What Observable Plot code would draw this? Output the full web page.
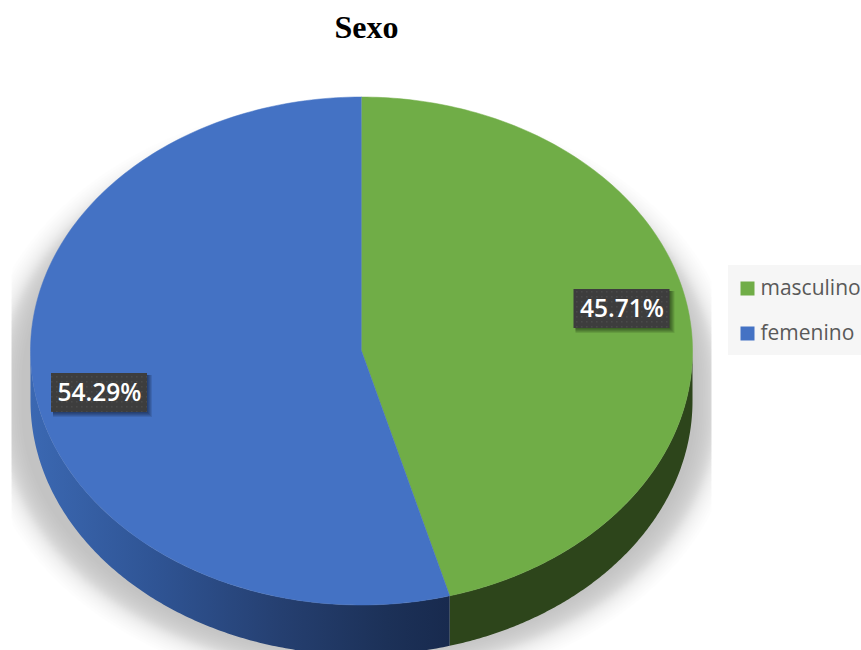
<!DOCTYPE html>
<html>
<head>
<meta charset="utf-8">
<style>
html,body{margin:0;padding:0;background:#fff;overflow:hidden}
svg{display:block}
</style>
<script src="https://cdn.jsdelivr.net/npm/d3@7"></script>
<script src="https://cdn.jsdelivr.net/npm/@observablehq/plot@0.6"></script>
</head>
<body>
<div id="chart"></div>
<script>
const chartTitle = "Sexo";
const categories = ["masculino", "femenino"];
const percents = [45.71, 54.29];
const topColors = ["#70ad47", "#4472c4"];
const sideColors = ["#2d451b", "url(#blueSide)"];
const labelX = [621.5, 99];
const labelY = [308.5, 392.5];
const legendY = [288, 333];

const W = 861, H = 650;
const cx = 361, cy = 350.5, rx = 331, ry = 254, depth = 50;

const rad = d => d * Math.PI / 180;
const ex = a => cx + rx * Math.sin(rad(a));
const ey = a => cy - ry * Math.cos(rad(a));
const arc = (a0, a1, n = 180) => d3.range(0, n + 1).map(i => a0 + (a1 - a0) * i / n);

let start = 0;
const slices = categories.map((name, i) => {
  const a0 = start, a1 = start + percents[i] * 3.6;
  start = a1;
  return {name, i, a0, a1};
});

const topPts = slices.flatMap(s => [
  {name: s.name, x: cx, y: cy},
  ...arc(s.a0, s.a1).map(a => ({name: s.name, x: ex(a), y: ey(a)}))
]);

const sidePts = slices.flatMap(s => {
  const a0 = Math.max(s.a0, 90), a1 = Math.min(s.a1, 270);
  const as = arc(a0, a1);
  return [
    ...as.map(a => ({name: s.name, x: ex(a), y: ey(a)})),
    ...as.slice().reverse().map(a => ({name: s.name, x: ex(a), y: ey(a) + depth}))
  ];
});

// soft shadow: stacked translucent copies of the pie outline, cut off at the image band edges
const shadowSteps = 30;
const shadowPts = d3.range(shadowSteps).flatMap(k => {
  const t = 2 * (k + 0.5) / shadowSteps - 1;
  const off = -22 * (0.5 * t + 0.5 * t * t * t);   // largest first
  return arc(0, 360, 240).map(a => {
    const c = Math.cos(rad(a));
    return {
      k,
      x: Math.min(711, Math.max(11, 358 + (358 + off) * Math.sin(rad(a)))),
      y: (c > 0 ? 382 : 410) - (262 + off) * c
    };
  });
});

const defsMark = () => {
  const d = d3.create("svg:defs");
  const g = d.append("linearGradient").attr("id", "blueSide")
    .attr("gradientUnits", "userSpaceOnUse")
    .attr("x1", 30).attr("x2", 449).attr("y1", 0).attr("y2", 0);
  [[0, "#3b68b2"], [0.3, "#2f5494"], [0.6, "#253f70"], [0.85, "#1c3158"], [1, "#182a4e"]]
    .forEach(([o, c]) => g.append("stop").attr("offset", o).attr("stop-color", c));
  const p = d.append("pattern").attr("id", "labelDots").attr("patternUnits", "userSpaceOnUse")
    .attr("width", 5).attr("height", 5);
  p.append("rect").attr("width", 5).attr("height", 5).attr("fill", "#3d3d3d");
  p.append("rect").attr("x", 1).attr("y", 1).attr("width", 1.5).attr("height", 1.5).attr("fill", "#4a4a4a");
  return d.node();
};

const labelRows = categories.map((name, i) => ({
  name, text: percents[i].toFixed(2) + "%", x: labelX[i], y: labelY[i]
}));
const boxShadowRows = labelRows.flatMap(d => d3.range(5, -1, -1).map(k => ({...d, k})));
const legendRows = categories.map((name, i) => ({name, y: legendY[i]}));

const plot = Plot.plot({
  width: W, height: H,
  margin: 0,
  x: {domain: [0, W], range: [0, W], axis: null},
  y: {domain: [0, H], range: [0, H], axis: null},
  color: {domain: categories, range: topColors},
  style: {background: "#fff", overflow: "hidden"},
  marks: [
    defsMark,
    Plot.line(shadowPts, {x: "x", y: "y", z: "k", fill: "#000", fillOpacity: 0.0072, stroke: "none"}),
    ...slices.map(s => Plot.line(sidePts.filter(d => d.name === s.name),
      {x: "x", y: "y", fill: sideColors[s.i], stroke: "none"})),
    Plot.line(topPts, {x: "x", y: "y", z: "name", fill: "name", stroke: "name", strokeWidth: 0.5}),
    Plot.rect(boxShadowRows, {
      x1: d => d.x - 46, x2: d => d.x + 48 + d.k,
      y1: d => d.y - 17.5, y2: d => d.y + 19.5 + d.k,
      fill: "#000", fillOpacity: 0.1
    }),
    Plot.rect(labelRows, {
      x1: d => d.x - 48, x2: d => d.x + 48,
      y1: d => d.y - 19.5, y2: d => d.y + 19.5,
      fill: "url(#labelDots)"
    }),
    Plot.text(labelRows, {
      x: "x", y: "y", text: "text", fill: "#fff", fontSize: 24.5, fontWeight: 600,
      fontFamily: "Open Sans", textAnchor: "middle", lineAnchor: "middle"
    }),
    Plot.rect([0], {x1: () => 728, x2: () => 861, y1: () => 265, y2: () => 355, fill: "#f6f6f6"}),
    Plot.dot(legendRows, {x: () => 747, y: "y", r: 7.9, symbol: "square", fill: "name", stroke: "none"}),
    Plot.text(legendRows, {
      x: () => 760, y: "y", text: "name", fill: "#595959", fontSize: 21,
      fontFamily: "Open Sans", textAnchor: "start", lineAnchor: "middle"
    }),
    Plot.text([chartTitle], {
      x: () => 366, y: () => 27.5, text: d => d, fill: "#000", fontSize: 32, fontWeight: 700,
      fontFamily: "Liberation Serif", textAnchor: "middle", lineAnchor: "middle"
    })
  ]
});

document.getElementById("chart").append(plot);
</script>
</body>
</html>
